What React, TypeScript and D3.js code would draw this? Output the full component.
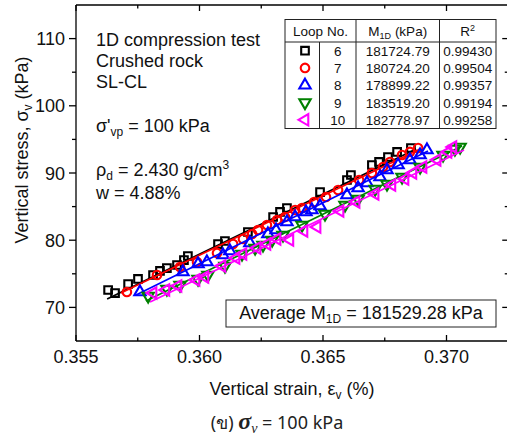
import React from 'react';
import * as d3 from 'd3';

// loading loops: [strain (%), stress (kPa)]
const loop6 = [
  [0.3563, 72.59], [0.35658, 72.14], [0.35711, 73.48], [0.35751, 74.23], [0.35812, 74.82],
  [0.3584, 75.42], [0.35868, 75.86], [0.35909, 76.31], [0.35937, 77.05], [0.35953, 77.65],
  [0.36075, 79.43], [0.36103, 79.88], [0.36196, 81.22], [0.36298, 83.45], [0.36326, 84.2],
  [0.36354, 84.79], [0.36488, 87.17], [0.36597, 88.96], [0.36613, 89.7], [0.36698, 91.19],
  [0.36727, 91.64], [0.36763, 92.38], [0.368, 93.13], [0.36856, 93.72],
];
const loop7 = [
  [0.35706, 72.29], [0.35828, 74.82], [0.35921, 76.01], [0.3599, 76.76], [0.36071, 78.1],
  [0.36136, 79.43], [0.36176, 80.18], [0.36213, 80.92], [0.36237, 81.52], [0.36273, 82.26],
  [0.36314, 83.01], [0.36346, 83.45], [0.36387, 84.49], [0.36415, 84.79], [0.36464, 85.68],
  [0.36512, 86.43], [0.36561, 87.47], [0.36646, 88.96], [0.36698, 90.0], [0.36743, 90.89],
  [0.36771, 91.64], [0.3682, 92.68], [0.36852, 93.13], [0.36885, 93.72],
];
const loop8 = [
  [0.35759, 72.29], [0.35933, 75.27], [0.35994, 76.46], [0.3603, 76.76], [0.36095, 77.8],
  [0.36123, 78.39], [0.36204, 79.58], [0.36277, 80.92], [0.3631, 81.52], [0.36354, 82.71],
  [0.36387, 83.45], [0.36431, 84.2], [0.36455, 84.49], [0.36488, 85.09], [0.36597, 86.73],
  [0.36642, 87.77], [0.36678, 88.51], [0.36731, 89.4], [0.36759, 90.45], [0.36804, 91.19],
  [0.36852, 91.93], [0.36893, 92.68], [0.36921, 93.42],
];
const loop9 = [
  [0.35792, 71.7], [0.35868, 72.74], [0.35921, 73.33], [0.35994, 74.23], [0.36034, 74.82],
  [0.36103, 76.16], [0.36172, 77.95], [0.36225, 78.84], [0.36257, 79.29], [0.36294, 80.03],
  [0.36338, 80.77], [0.36415, 82.26], [0.36508, 83.9], [0.36589, 85.24], [0.36642, 86.13],
  [0.36711, 87.62], [0.36759, 88.36], [0.3682, 89.4], [0.36893, 90.89], [0.36986, 92.68],
  [0.37034, 93.57], [0.37055, 93.87],
];
const loop10 = [
  [0.35812, 72.14], [0.35864, 72.59], [0.35913, 73.18], [0.35986, 74.08], [0.36022, 74.52],
  [0.36091, 76.16], [0.36148, 77.35], [0.36176, 77.95], [0.36233, 78.84], [0.36273, 79.43],
  [0.36314, 80.18], [0.36366, 80.03], [0.36423, 81.37], [0.36476, 81.96], [0.36569, 84.35],
  [0.36634, 85.68], [0.36711, 86.88], [0.36779, 88.21], [0.36832, 89.11], [0.36864, 90.0],
  [0.36905, 90.89], [0.36962, 91.93], [0.37006, 93.13], [0.37026, 93.87],
];

// linear fit end points
const fit6 = [[0.35626, 71.25], [0.36877, 93.57]];
const fit7 = [[0.35682, 72.14], [0.36893, 93.57]];
const fit8 = [[0.35743, 71.85], [0.36925, 93.27]];
const fit9 = [[0.35783, 70.95], [0.37063, 94.02]];
const fit10 = [[0.358, 70.8], [0.37071, 93.42]];

const loopNos = ['6', '7', '8', '9', '10'];
const m1dValues = ['181724.79', '180724.20', '178899.22', '183519.20', '182778.97'];
const r2Values = ['0.99430', '0.99504', '0.99357', '0.99194', '0.99258'];
const averageM1D = '181529.28';

const xTicks = [0.355, 0.36, 0.365, 0.37];
const xMinor = [0.3575, 0.3625, 0.3675, 0.3725];
const yTicks = [70, 80, 90, 100, 110];
const yMinor = [75, 85, 95, 105];

const series = [
  { data: loop6, fit: fit6, color: '#000000', sym: 'square' },
  { data: loop7, fit: fit7, color: '#ff0000', sym: 'circle' },
  { data: loop8, fit: fit8, color: '#0000ff', sym: 'up' },
  { data: loop9, fit: fit9, color: '#008000', sym: 'down' },
  { data: loop10, fit: fit10, color: '#ff00ff', sym: 'left' },
];

const FONT = '"Liberation Sans", Arial, sans-serif';

const symPath = (sym: string) => {
  if (sym === 'square') return d3.symbol().type(d3.symbolSquare).size(58)();
  if (sym === 'circle') return d3.symbol().type(d3.symbolCircle).size(58)();
  return d3.symbol().type(d3.symbolTriangle).size(56)();
};
const symRot = (sym: string) => (sym === 'down' ? 180 : sym === 'left' ? -90 : 0);

const Marker = ({ sym, color, cx, cy }: any) => (
  <path
    d={symPath(sym) as string}
    transform={`translate(${cx},${cy}) rotate(${symRot(sym)})`}
    fill="none"
    stroke={color}
    strokeWidth={2.1}
  />
);

const App = () => {
  const x = d3.scaleLinear().domain([0.355, 0.3725]).range([76, 508.25]);
  const y = d3.scaleLinear().domain([65, 115]).range([341, 5]);
  const [x0, x1] = x.range();
  const [y0, y1] = y.range();
  const line = d3
    .line<number[]>()
    .x((d) => x(d[0]))
    .y((d) => y(d[1]));

  // table geometry
  const tL = 285, tR = 496, tT = 19.5, tH = 42, tB = 128.5;
  const c1 = 319.5, c2 = 356, c3 = 439.5;
  const rowH = (tB - tH) / 5;

  return (
    <svg
      width={507}
      height={441}
      style={{ position: 'absolute', left: 0, top: 0, background: '#fff' }}
      fontFamily={FONT}
    >
      <rect width={507} height={441} fill="#fff" />

      {/* fit lines and points */}
      {series.map((s, i) => (
        <g key={i}>
          <path d={line(s.fit) as string} stroke={s.color} strokeWidth={1.7} fill="none" />
          {s.data.map((d, j) => (
            <Marker key={j} sym={s.sym} color={s.color} cx={x(d[0])} cy={y(d[1])} />
          ))}
        </g>
      ))}

      {/* axes frame */}
      <g stroke="#000" strokeWidth={1.3}>
        <line x1={x0} x2={x1} y1={y0} y2={y0} />
        <line x1={x0} x2={x1} y1={y1} y2={y1} />
        <line x1={x0} x2={x0} y1={y0} y2={y1} />
        <line x1={x1} x2={x1} y1={y0} y2={y1} />
        {xTicks.map((t) => (
          <g key={t}>
            <line x1={x(t)} x2={x(t)} y1={y0} y2={y0 - 6} />
            <line x1={x(t)} x2={x(t)} y1={y1} y2={y1 + 6} />
          </g>
        ))}
        {xMinor.map((t) => (
          <g key={t}>
            <line x1={x(t)} x2={x(t)} y1={y0} y2={y0 - 3.5} />
            <line x1={x(t)} x2={x(t)} y1={y1} y2={y1 + 3.5} />
          </g>
        ))}
        {yTicks.map((t) => (
          <g key={t}>
            <line x1={x0} x2={x0 - 7} y1={y(t)} y2={y(t)} />
            <line x1={x1} x2={x1 - 6} y1={y(t)} y2={y(t)} />
          </g>
        ))}
        {yMinor.map((t) => (
          <g key={t}>
            <line x1={x0} x2={x0 - 4} y1={y(t)} y2={y(t)} />
            <line x1={x1} x2={x1 - 3.5} y1={y(t)} y2={y(t)} />
          </g>
        ))}
      </g>

      {/* tick labels */}
      {xTicks.map((t) => (
        <text key={t} x={x(t)} y={362.5} fontSize={18} textAnchor="middle" fill="#111">
          {d3.format('.3f')(t)}
        </text>
      ))}
      {yTicks.map((t) => (
        <text key={t} x={65} y={y(t) + 6.5} fontSize={18} textAnchor="end" fill="#111">
          {t}
        </text>
      ))}

      {/* axis titles */}
      <text x={292} y={395} fontSize={18} textAnchor="middle" fill="#111">
        Vertical strain, ε<tspan dy={4} fontSize={12}>v</tspan>
        <tspan dy={-4}> (%)</tspan>
      </text>
      <text transform="translate(28,150) rotate(-90)" fontSize={18} textAnchor="middle" fill="#111">
        Vertical stress, σ<tspan dy={4} fontSize={12}>v</tspan>
        <tspan dy={-4}> (kPa)</tspan>
      </text>

      {/* notes */}
      <g fontSize={18} fill="#111">
        <text x={96} y={46}>1D compression test</text>
        <text x={96} y={67}>Crushed rock</text>
        <text x={96} y={88}>SL-CL</text>
        <text x={96} y={132}>
          σ'<tspan dy={4} fontSize={12}>vp</tspan>
          <tspan dy={-4}> = 100 kPa</tspan>
        </text>
        <text x={96} y={176}>
          ρ<tspan dy={4} fontSize={12}>d</tspan>
          <tspan dy={-4}> = 2.430 g/cm</tspan>
          <tspan dy={-7} fontSize={12}>3</tspan>
        </text>
        <text x={96} y={199}>w = 4.88%</text>
      </g>

      {/* table */}
      <g>
        <rect x={tL} y={tT} width={tR - tL} height={tB - tT} fill="#fff" stroke="#222" strokeWidth={1} />
        <g stroke="#222" strokeWidth={1}>
          <line x1={tL} x2={tR} y1={tH} y2={tH} />
          <line x1={c2} x2={c2} y1={tT} y2={tB} />
          <line x1={c3} x2={c3} y1={tT} y2={tB} />
          <line x1={c1} x2={c1} y1={tH} y2={tB} />
        </g>
        <g fontSize={13.5} fill="#111" textAnchor="middle">
          <text x={(tL + c2) / 2} y={36}>Loop No.</text>
          <text x={(c2 + c3) / 2} y={36}>
            M<tspan dy={3} fontSize={9}>1D</tspan>
            <tspan dy={-3}> (kPa)</tspan>
          </text>
          <text x={(c3 + tR) / 2} y={36}>
            R<tspan dy={-5} fontSize={9}>2</tspan>
          </text>
          {loopNos.map((n, i) => {
            const cy = tH + rowH * (i + 0.5);
            return (
              <g key={n}>
                <text x={(c1 + c2) / 2} y={cy + 5}>{n}</text>
                <text x={(c2 + c3) / 2} y={cy + 5}>{m1dValues[i]}</text>
                <text x={(c3 + tR) / 2} y={cy + 5}>{r2Values[i]}</text>
              </g>
            );
          })}
        </g>
        {series.map((s, i) => (
          <Marker key={i} sym={s.sym} color={s.color} cx={305} cy={tH + rowH * (i + 0.5)} />
        ))}
      </g>

      {/* average box */}
      <rect x={226} y={300} width={270} height={27} fill="#fff" stroke="#222" strokeWidth={1} />
      <text x={361} y={319} fontSize={18} textAnchor="middle" fill="#111">
        Average M<tspan dy={4} fontSize={12}>1D</tspan>
        <tspan dy={-4}> = {averageM1D} kPa</tspan>
      </text>

      {/* caption */}
      <text x={277} y={429} textAnchor="middle" fill="#222" fontSize={18} fontFamily='"Noto Sans", "DejaVu Sans", sans-serif'>
        (ข){' '}
        <tspan fontFamily='"Liberation Serif", serif' fontStyle="italic" fontWeight="bold" fontSize={24}>σ</tspan>
        <tspan fontFamily='"Liberation Serif", serif' fontStyle="italic" fontSize={14} dy={4}>v</tspan>
        <tspan dy={-4}> = 100 kPa</tspan>
      </text>
    </svg>
  );
};

export default App;
